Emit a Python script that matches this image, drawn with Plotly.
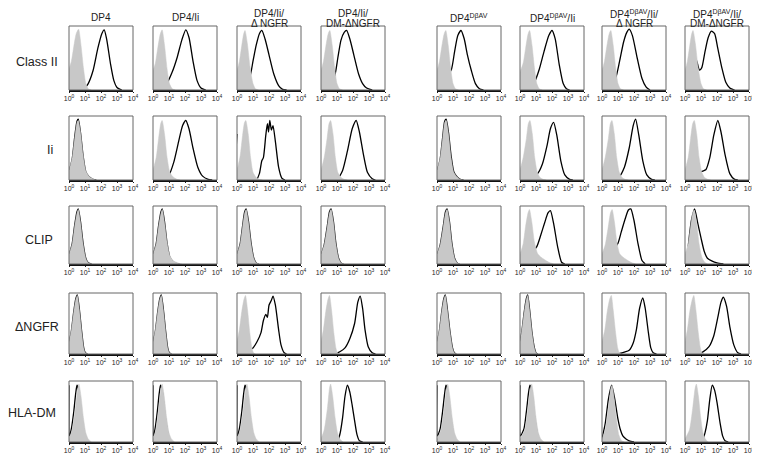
import plotly.graph_objects as go

COLUMN_TITLES = [
    "DP4", "DP4/Ii", "DP4/Ii/<br>Δ NGFR", "DP4/Ii/<br>DM-ΔNGFR",
    "DP4<sup>DβAV</sup>", "DP4<sup>DβAV</sup>/Ii",
    "DP4<sup>DβAV</sup>/Ii/<br>Δ NGFR", "DP4<sup>DβAV</sup>/Ii/<br>DM-ΔNGFR",
]
ROW_LABELS = ["Class II", "Ii", "CLIP", "ΔNGFR", "HLA-DM"]
TICK_VALUES = [0, 1, 2, 3, 4]
TICK_LABELS = ["10<sup>0</sup>", "10<sup>1</sup>", "10<sup>2</sup>", "10<sup>3</sup>", "10<sup>4</sup>"]

# Each histogram: list of (log10 fluorescence, relative count)
CLASS_II_GRAY = [
    [(0, 0.33), (0.15, 0.45), (0.3, 0.68), (0.45, 0.88), (0.6, 0.95), (0.75, 0.7), (0.9, 0.35), (1.05, 0.1), (1.2, 0.02), (1.4, 0)],
    [(0, 0.3), (0.15, 0.42), (0.3, 0.66), (0.45, 0.87), (0.57, 0.94), (0.72, 0.7), (0.88, 0.33), (1.03, 0.1), (1.2, 0.02), (1.4, 0)],
    [(0, 0.3), (0.15, 0.45), (0.3, 0.7), (0.42, 0.88), (0.5, 0.93), (0.65, 0.72), (0.82, 0.35), (1.0, 0.1), (1.15, 0.02), (1.35, 0)],
    [(0, 0.3), (0.15, 0.44), (0.3, 0.68), (0.45, 0.88), (0.55, 0.93), (0.7, 0.7), (0.85, 0.35), (1.0, 0.1), (1.15, 0.02), (1.35, 0)],
    [(0, 0.3), (0.15, 0.44), (0.3, 0.68), (0.45, 0.88), (0.55, 0.93), (0.7, 0.7), (0.85, 0.35), (1.0, 0.1), (1.15, 0.02), (1.35, 0)],
    [(0, 0.28), (0.2, 0.42), (0.35, 0.65), (0.5, 0.87), (0.6, 0.93), (0.75, 0.7), (0.9, 0.35), (1.05, 0.1), (1.2, 0.02), (1.4, 0)],
    [(0, 0.3), (0.15, 0.44), (0.3, 0.68), (0.45, 0.88), (0.55, 0.93), (0.7, 0.7), (0.85, 0.35), (1.0, 0.1), (1.15, 0.02), (1.35, 0)],
    [(0, 0.3), (0.15, 0.45), (0.3, 0.7), (0.42, 0.88), (0.5, 0.93), (0.65, 0.72), (0.82, 0.35), (1.0, 0.1), (1.15, 0.02), (1.35, 0)],
]
CLASS_II_BLACK = [
    [(0.9, 0), (1.2, 0.1), (1.5, 0.3), (1.8, 0.65), (2.05, 0.88), (2.2, 0.94), (2.35, 0.8), (2.6, 0.4), (2.8, 0.15), (3.0, 0.04), (3.3, 0)],
    [(0.5, 0.03), (0.9, 0.12), (1.2, 0.28), (1.5, 0.5), (1.8, 0.78), (2.05, 0.94), (2.25, 0.82), (2.5, 0.45), (2.75, 0.15), (3.0, 0.03), (3.3, 0)],
    [(0.5, 0.1), (0.8, 0.2), (1.0, 0.45), (1.2, 0.7), (1.4, 0.88), (1.55, 0.93), (1.75, 0.8), (2.0, 0.55), (2.3, 0.25), (2.6, 0.07), (2.85, 0.01), (3.1, 0)],
    [(0.5, 0.1), (0.85, 0.22), (1.05, 0.5), (1.25, 0.78), (1.45, 0.9), (1.6, 0.93), (1.8, 0.8), (2.05, 0.55), (2.35, 0.25), (2.6, 0.1), (2.85, 0.03), (3.2, 0)],
    [(0.6, 0.2), (0.9, 0.32), (1.1, 0.6), (1.3, 0.85), (1.5, 0.93), (1.7, 0.8), (1.9, 0.55), (2.15, 0.3), (2.4, 0.1), (2.65, 0.02), (2.9, 0)],
    [(0.6, 0.05), (0.9, 0.12), (1.2, 0.32), (1.5, 0.6), (1.8, 0.85), (2.0, 0.93), (2.2, 0.8), (2.45, 0.4), (2.7, 0.1), (2.9, 0.02), (3.1, 0)],
    [(0.6, 0.08), (0.85, 0.18), (1.1, 0.45), (1.35, 0.75), (1.55, 0.9), (1.7, 0.95), (1.9, 0.85), (2.2, 0.5), (2.5, 0.18), (2.75, 0.05), (3.0, 0)],
    [(0.5, 0.45), (0.7, 0.47), (0.9, 0.31), (1.05, 0.35), (1.25, 0.6), (1.45, 0.82), (1.65, 0.92), (1.85, 0.88), (2.05, 0.65), (2.3, 0.35), (2.55, 0.12), (2.8, 0.03), (3.1, 0)],
]

II_GRAY = [
    [(0, 0.15), (0.2, 0.35), (0.35, 0.65), (0.5, 0.9), (0.58, 0.93), (0.72, 0.75), (0.88, 0.4), (1.05, 0.15), (1.25, 0.06), (1.5, 0.02), (1.7, 0)],
    [(0, 0.15), (0.2, 0.35), (0.35, 0.65), (0.48, 0.88), (0.57, 0.93), (0.72, 0.72), (0.88, 0.35), (1.05, 0.12), (1.25, 0.05), (1.5, 0.01), (1.7, 0)],
    [(0, 0.15), (0.2, 0.38), (0.35, 0.7), (0.47, 0.9), (0.55, 0.93), (0.7, 0.72), (0.85, 0.35), (1.0, 0.12), (1.2, 0.04), (1.4, 0.01), (1.6, 0)],
    [(0, 0.15), (0.2, 0.35), (0.38, 0.65), (0.5, 0.88), (0.6, 0.93), (0.75, 0.72), (0.9, 0.35), (1.05, 0.12), (1.25, 0.04), (1.45, 0.01), (1.65, 0)],
    [(0, 0.15), (0.2, 0.35), (0.35, 0.65), (0.48, 0.9), (0.57, 0.93), (0.72, 0.72), (0.88, 0.35), (1.05, 0.12), (1.25, 0.05), (1.45, 0.01), (1.65, 0)],
    [(0, 0.15), (0.2, 0.35), (0.4, 0.65), (0.52, 0.88), (0.62, 0.93), (0.77, 0.72), (0.92, 0.35), (1.08, 0.12), (1.25, 0.04), (1.45, 0.01), (1.65, 0)],
    [(0, 0.15), (0.2, 0.35), (0.4, 0.65), (0.52, 0.88), (0.62, 0.93), (0.77, 0.72), (0.92, 0.35), (1.08, 0.12), (1.25, 0.04), (1.45, 0.01), (1.65, 0)],
    [(0, 0.15), (0.2, 0.35), (0.35, 0.65), (0.48, 0.88), (0.58, 0.93), (0.73, 0.72), (0.88, 0.35), (1.05, 0.12), (1.22, 0.04), (1.42, 0.01), (1.6, 0)],
]
II_BLACK = [
    [(0, 0.13), (0.2, 0.33), (0.35, 0.66), (0.5, 0.92), (0.58, 0.95), (0.72, 0.74), (0.88, 0.38), (1.05, 0.13), (1.25, 0.05), (1.5, 0.01), (1.7, 0)],
    [(0.7, 0.03), (1.0, 0.08), (1.3, 0.28), (1.6, 0.6), (1.85, 0.85), (2.05, 0.93), (2.25, 0.8), (2.5, 0.5), (2.8, 0.2), (3.1, 0.06), (3.45, 0.01), (3.7, 0)],
    [(0, 0.72), (0.05, 0.04), (1.2, 0.0), (1.4, 0.1), (1.55, 0.3), (1.65, 0.35), (1.8, 0.7), (1.9, 0.88), (1.97, 0.75), (2.05, 0.93), (2.15, 0.78), (2.25, 0.85), (2.4, 0.6), (2.6, 0.2), (2.8, 0.03), (3.0, 0)],
    [(0.7, 0.0), (1.05, 0.03), (1.35, 0.15), (1.65, 0.45), (1.95, 0.8), (2.2, 0.93), (2.4, 0.75), (2.65, 0.4), (2.9, 0.12), (3.2, 0.02), (3.4, 0)],
    [(0, 0.13), (0.2, 0.33), (0.35, 0.66), (0.48, 0.92), (0.57, 0.95), (0.72, 0.74), (0.88, 0.38), (1.05, 0.13), (1.25, 0.05), (1.45, 0.01), (1.65, 0)],
    [(0.8, 0.05), (1.1, 0.1), (1.4, 0.25), (1.7, 0.55), (1.9, 0.8), (2.1, 0.9), (2.3, 0.7), (2.55, 0.3), (2.8, 0.08), (3.1, 0.01), (3.3, 0)],
    [(0.8, 0.02), (1.07, 0.05), (1.4, 0.2), (1.7, 0.5), (1.95, 0.85), (2.1, 0.95), (2.3, 0.7), (2.55, 0.3), (2.8, 0.08), (3.1, 0.01), (3.3, 0)],
    [(0.6, 0.1), (0.9, 0.12), (1.1, 0.14), (1.3, 0.16), (1.55, 0.35), (1.8, 0.7), (2.05, 0.93), (2.25, 0.75), (2.5, 0.4), (2.8, 0.1), (3.1, 0.01), (3.3, 0)],
]

CLIP_GRAY = [
    [(0, 0.17), (0.2, 0.35), (0.35, 0.65), (0.5, 0.88), (0.58, 0.94), (0.72, 0.72), (0.88, 0.35), (1.05, 0.1), (1.2, 0.02), (1.4, 0)],
    [(0, 0.17), (0.2, 0.35), (0.35, 0.65), (0.5, 0.88), (0.58, 0.94), (0.72, 0.72), (0.88, 0.38), (1.05, 0.15), (1.25, 0.06), (1.45, 0.03), (1.65, 0.01), (1.8, 0)],
    [(0, 0.17), (0.2, 0.35), (0.35, 0.65), (0.48, 0.88), (0.57, 0.94), (0.72, 0.72), (0.88, 0.35), (1.05, 0.1), (1.2, 0.02), (1.35, 0)],
    [(0, 0.17), (0.2, 0.33), (0.38, 0.62), (0.53, 0.88), (0.63, 0.94), (0.78, 0.72), (0.93, 0.35), (1.1, 0.1), (1.25, 0.02), (1.4, 0)],
    [(0, 0.17), (0.2, 0.33), (0.38, 0.62), (0.53, 0.88), (0.63, 0.94), (0.78, 0.72), (0.93, 0.35), (1.1, 0.1), (1.26, 0.02), (1.4, 0)],
    [(0, 0.17), (0.2, 0.35), (0.35, 0.65), (0.5, 0.88), (0.59, 0.94), (0.74, 0.72), (0.9, 0.38), (1.1, 0.18), (1.3, 0.12), (1.5, 0.08), (1.8, 0.03), (2.1, 0)],
    [(0, 0.17), (0.2, 0.33), (0.38, 0.62), (0.53, 0.88), (0.63, 0.94), (0.78, 0.72), (0.93, 0.38), (1.1, 0.18), (1.3, 0.12), (1.5, 0.08), (1.8, 0.03), (2.1, 0)],
    [(0, 0.17), (0.2, 0.35), (0.35, 0.65), (0.48, 0.88), (0.57, 0.93), (0.72, 0.72), (0.88, 0.35), (1.05, 0.12), (1.2, 0.04), (1.4, 0)],
]
CLIP_BLACK = [
    [(0, 0.15), (0.2, 0.35), (0.35, 0.66), (0.5, 0.9), (0.58, 0.95), (0.72, 0.73), (0.88, 0.36), (1.05, 0.1), (1.2, 0.02), (1.4, 0)],
    [(0, 0.15), (0.2, 0.35), (0.35, 0.66), (0.5, 0.9), (0.58, 0.95), (0.72, 0.73), (0.88, 0.36), (1.05, 0.12), (1.25, 0.04), (1.45, 0.01), (1.65, 0)],
    [(0, 0.15), (0.2, 0.35), (0.35, 0.66), (0.48, 0.9), (0.57, 0.95), (0.72, 0.73), (0.88, 0.36), (1.05, 0.1), (1.2, 0.02), (1.35, 0)],
    [(0, 0.15), (0.2, 0.33), (0.38, 0.63), (0.53, 0.9), (0.63, 0.95), (0.78, 0.73), (0.93, 0.36), (1.1, 0.1), (1.25, 0.02), (1.4, 0)],
    [(0, 0.15), (0.2, 0.33), (0.38, 0.63), (0.53, 0.9), (0.63, 0.95), (0.78, 0.73), (0.93, 0.36), (1.1, 0.1), (1.26, 0.02), (1.4, 0)],
    [(0.6, 0.15), (1.05, 0.3), (1.3, 0.5), (1.55, 0.72), (1.75, 0.88), (1.9, 0.92), (2.1, 0.7), (2.35, 0.3), (2.6, 0.03), (2.8, 0)],
    [(0.6, 0.2), (1.0, 0.36), (1.2, 0.55), (1.45, 0.78), (1.65, 0.93), (1.8, 0.95), (2.0, 0.75), (2.25, 0.35), (2.5, 0.06), (2.7, 0)],
    [(0.2, 0.3), (0.4, 0.75), (0.6, 0.95), (0.8, 0.7), (1.0, 0.45), (1.2, 0.22), (1.4, 0.1), (1.7, 0.05), (2.0, 0.02), (2.4, 0)],
]

NGFR_GRAY = [
    [(0, 0.2), (0.15, 0.4), (0.3, 0.7), (0.43, 0.9), (0.52, 0.96), (0.65, 0.72), (0.8, 0.35), (0.92, 0.1), (1.02, 0.02), (1.15, 0)],
    [(0, 0.2), (0.15, 0.4), (0.3, 0.7), (0.43, 0.9), (0.52, 0.96), (0.65, 0.72), (0.8, 0.35), (0.92, 0.1), (1.02, 0.02), (1.15, 0)],
    [(0, 0.2), (0.15, 0.4), (0.3, 0.7), (0.44, 0.9), (0.53, 0.96), (0.66, 0.72), (0.8, 0.35), (0.93, 0.1), (1.03, 0.02), (1.15, 0)],
    [(0, 0.2), (0.15, 0.4), (0.3, 0.7), (0.44, 0.9), (0.53, 0.96), (0.66, 0.72), (0.8, 0.35), (0.93, 0.1), (1.03, 0.02), (1.15, 0)],
    [(0, 0.2), (0.15, 0.4), (0.3, 0.7), (0.43, 0.9), (0.52, 0.96), (0.65, 0.72), (0.82, 0.35), (0.97, 0.1), (1.08, 0.02), (1.2, 0)],
    [(0, 0.2), (0.12, 0.4), (0.27, 0.7), (0.4, 0.9), (0.48, 0.96), (0.6, 0.72), (0.75, 0.35), (0.9, 0.1), (1.0, 0.02), (1.1, 0)],
    [(0, 0.2), (0.18, 0.4), (0.33, 0.7), (0.48, 0.9), (0.58, 0.96), (0.7, 0.72), (0.85, 0.35), (0.98, 0.1), (1.08, 0.02), (1.2, 0)],
    [(0, 0.2), (0.15, 0.4), (0.3, 0.7), (0.46, 0.9), (0.55, 0.96), (0.68, 0.72), (0.83, 0.35), (0.96, 0.1), (1.06, 0.02), (1.18, 0)],
]
NGFR_BLACK = [
    [(0, 0.18), (0.15, 0.38), (0.3, 0.7), (0.43, 0.91), (0.52, 0.97), (0.65, 0.73), (0.8, 0.35), (0.92, 0.1), (1.02, 0.02), (1.15, 0)],
    [(0, 0.18), (0.15, 0.38), (0.3, 0.7), (0.43, 0.91), (0.52, 0.97), (0.65, 0.73), (0.8, 0.35), (0.92, 0.1), (1.02, 0.02), (1.15, 0)],
    [(0.6, 0.05), (1.0, 0.1), (1.25, 0.2), (1.5, 0.35), (1.65, 0.55), (1.8, 0.65), (1.9, 0.6), (2.0, 0.8), (2.15, 0.88), (2.25, 0.95), (2.4, 0.8), (2.6, 0.4), (2.75, 0.15), (2.95, 0.02), (3.1, 0)],
    [(0.7, 0), (0.95, 0.01), (1.2, 0.04), (1.5, 0.1), (1.8, 0.25), (2.1, 0.5), (2.3, 0.85), (2.45, 0.95), (2.6, 0.75), (2.75, 0.4), (2.95, 0.12), (3.2, 0.02), (3.4, 0)],
    [(0, 0.18), (0.15, 0.38), (0.3, 0.7), (0.43, 0.91), (0.52, 0.97), (0.65, 0.73), (0.82, 0.35), (0.97, 0.1), (1.08, 0.02), (1.2, 0)],
    [(0, 0.18), (0.12, 0.38), (0.27, 0.7), (0.4, 0.91), (0.48, 0.97), (0.6, 0.73), (0.75, 0.35), (0.9, 0.1), (1.0, 0.02), (1.1, 0)],
    [(0.8, 0), (1.1, 0.01), (1.4, 0.03), (1.7, 0.06), (1.95, 0.18), (2.15, 0.4), (2.35, 0.75), (2.55, 0.92), (2.7, 0.75), (2.9, 0.35), (3.05, 0.1), (3.2, 0.02), (3.4, 0)],
    [(0.8, 0), (1.1, 0.03), (1.5, 0.12), (1.8, 0.3), (2.05, 0.6), (2.25, 0.85), (2.4, 0.93), (2.6, 0.78), (2.8, 0.45), (3.05, 0.15), (3.3, 0.02), (3.5, 0)],
]

HLA_DM_GRAY = [
    [(0, 0.05), (0.2, 0.2), (0.4, 0.55), (0.55, 0.88), (0.62, 0.95), (0.75, 0.75), (0.9, 0.4), (1.05, 0.15), (1.2, 0.05), (1.4, 0)],
    [(0, 0.05), (0.18, 0.2), (0.36, 0.55), (0.5, 0.88), (0.57, 0.95), (0.7, 0.75), (0.85, 0.4), (1.0, 0.15), (1.15, 0.05), (1.35, 0)],
    [(0, 0.05), (0.2, 0.2), (0.4, 0.55), (0.55, 0.88), (0.62, 0.95), (0.75, 0.75), (0.9, 0.4), (1.05, 0.15), (1.2, 0.05), (1.4, 0)],
    [(0, 0.05), (0.2, 0.2), (0.4, 0.55), (0.53, 0.88), (0.6, 0.95), (0.73, 0.75), (0.88, 0.4), (1.03, 0.15), (1.18, 0.05), (1.38, 0)],
    [(0, 0.05), (0.25, 0.2), (0.45, 0.55), (0.6, 0.88), (0.67, 0.95), (0.8, 0.75), (0.95, 0.4), (1.1, 0.15), (1.25, 0.05), (1.45, 0)],
    [(0, 0.05), (0.3, 0.2), (0.5, 0.55), (0.65, 0.88), (0.73, 0.95), (0.86, 0.75), (1.0, 0.4), (1.15, 0.15), (1.3, 0.05), (1.5, 0)],
    [(0, 0.05), (0.2, 0.2), (0.4, 0.55), (0.55, 0.88), (0.63, 0.93), (0.76, 0.72), (0.9, 0.38), (1.05, 0.12), (1.2, 0.03), (1.4, 0)],
    [(0, 0.05), (0.28, 0.2), (0.48, 0.55), (0.63, 0.88), (0.71, 0.95), (0.84, 0.75), (0.98, 0.4), (1.12, 0.15), (1.27, 0.05), (1.45, 0)],
]
HLA_DM_BLACK = [
    [(0, 0.93), (0.03, 0.1), (0.15, 0.22), (0.3, 0.5), (0.42, 0.8), (0.5, 0.93), (0.6, 0.85), (0.8, 0.4), (1.0, 0.1), (1.2, 0)],
    [(0, 0.93), (0.03, 0.1), (0.13, 0.22), (0.27, 0.5), (0.39, 0.8), (0.47, 0.93), (0.57, 0.85), (0.77, 0.4), (0.97, 0.1), (1.15, 0)],
    [(0, 0.93), (0.03, 0.1), (0.15, 0.22), (0.3, 0.5), (0.42, 0.8), (0.5, 0.93), (0.6, 0.85), (0.8, 0.4), (1.0, 0.1), (1.2, 0)],
    [(0.8, 0), (1.05, 0.02), (1.2, 0.15), (1.35, 0.4), (1.5, 0.75), (1.65, 0.93), (1.8, 0.82), (1.95, 0.6), (2.1, 0.35), (2.25, 0.12), (2.4, 0.02), (2.6, 0)],
    [(0, 0.93), (0.03, 0.1), (0.2, 0.22), (0.35, 0.5), (0.48, 0.8), (0.56, 0.93), (0.66, 0.85), (0.86, 0.4), (1.06, 0.1), (1.25, 0)],
    [(0, 0.93), (0.03, 0.1), (0.25, 0.22), (0.4, 0.5), (0.53, 0.8), (0.62, 0.93), (0.72, 0.85), (0.92, 0.4), (1.12, 0.1), (1.3, 0)],
    [(0, 0.05), (0.2, 0.3), (0.4, 0.7), (0.6, 0.93), (0.8, 0.7), (0.98, 0.4), (1.15, 0.2), (1.3, 0.1), (1.5, 0.05), (1.7, 0.02), (2.0, 0)],
    [(0.9, 0), (1.08, 0.02), (1.25, 0.15), (1.4, 0.35), (1.55, 0.7), (1.7, 0.93), (1.85, 0.85), (2.0, 0.65), (2.2, 0.3), (2.35, 0.1), (2.5, 0.02), (2.7, 0)],
]

GRAY_ROWS = [CLASS_II_GRAY, II_GRAY, CLIP_GRAY, NGFR_GRAY, HLA_DM_GRAY]
BLACK_ROWS = [CLASS_II_BLACK, II_BLACK, CLIP_BLACK, NGFR_BLACK, HLA_DM_BLACK]

# ---- layout (pixel positions in the 760x459 window) ----
OFFSET = 8  # the page body adds an 8px margin around the figure
FIG_W, FIG_H = 760 - OFFSET, 459 - OFFSET
COL_LEFT = [69, 153, 237, 321, 437, 520, 602, 685]
PANEL_W = 64
ROW_TOP = [26, 116, 206, 293, 381]
ROW_H = [64, 64, 58, 61, 61]
ROW_LABEL_X = [37, 50, 39, 37, 32]
ROW_LABEL_Y = [62, 150, 240, 327, 413]
TITLE_LINE_Y = [13.5, 23.5]
TITLE_SINGLE_Y = 17.5


def px_x(x):
    return (x - OFFSET) / FIG_W


def px_y(y):
    return 1 - (y - OFFSET) / FIG_H


FONT = "Liberation Sans, Arial, sans-serif"

fig = go.Figure()
layout = dict(
    width=FIG_W, height=FIG_H, autosize=False,
    margin=dict(l=0, r=0, t=0, b=0, pad=0),
    paper_bgcolor="white", plot_bgcolor="white",
    showlegend=False,
    font=dict(family=FONT, color="#222"),
)
shapes = []
annotations = []

for r in range(5):
    for c in range(8):
        k = r * 8 + c + 1
        xa = "x" if k == 1 else f"x{k}"
        ya = "y" if k == 1 else f"y{k}"
        xkey = "xaxis" if k == 1 else f"xaxis{k}"
        ykey = "yaxis" if k == 1 else f"yaxis{k}"
        layout[xkey] = dict(
            domain=[px_x(COL_LEFT[c]), px_x(COL_LEFT[c] + PANEL_W)], anchor=ya, range=[0, 4],
            tickvals=TICK_VALUES, ticktext=TICK_LABELS,
            tickfont=dict(size=7, color="#222", family=FONT),
            ticks="outside", ticklen=1, tickcolor="#222", tickwidth=1,
            showline=True, linecolor="#111", linewidth=1.5,
            showgrid=False, zeroline=False, fixedrange=True, automargin=False,
        )
        layout[ykey] = dict(
            domain=[px_y(ROW_TOP[r] + ROW_H[r]), px_y(ROW_TOP[r])], anchor=xa, range=[0, 1.0],
            visible=False, showgrid=False, zeroline=False, fixedrange=True,
        )
        black = BLACK_ROWS[r][c]
        gray = GRAY_ROWS[r][c]
        fig.add_trace(go.Scatter(
            x=[p[0] for p in black], y=[p[1] for p in black],
            mode="lines", line=dict(color="black", width=1.3, shape="spline", smoothing=0.6),
            xaxis=xa, yaxis=ya, hoverinfo="skip",
        ))
        fig.add_trace(go.Scatter(
            x=[p[0] for p in gray], y=[p[1] for p in gray],
            mode="lines", fill="tozeroy", fillcolor="#c8c8c8",
            line=dict(color="#c8c8c8", width=0.5, shape="spline", smoothing=0.6),
            xaxis=xa, yaxis=ya, hoverinfo="skip",
        ))
        shapes.append(dict(
            type="rect", xref=f"{xa} domain", yref=f"{ya} domain",
            x0=0, x1=1, y0=0, y1=1, line=dict(color="#666", width=1),
            layer="above",
        ))

for c, title in enumerate(COLUMN_TITLES):
    lines = title.split("<br>")
    ys = TITLE_LINE_Y if len(lines) == 2 else [TITLE_SINGLE_Y]
    for line, ty in zip(lines, ys):
        annotations.append(dict(
            text=line, xref="paper", yref="paper",
            x=px_x(COL_LEFT[c] + PANEL_W / 2), y=px_y(ty),
            xanchor="center", yanchor="middle", showarrow=False,
            font=dict(size=10, color="#222", family=FONT),
        ))

for r, lab in enumerate(ROW_LABELS):
    annotations.append(dict(
        text=lab, xref="paper", yref="paper",
        x=px_x(ROW_LABEL_X[r]), y=px_y(ROW_LABEL_Y[r]),
        xanchor="center", yanchor="middle", showarrow=False,
        font=dict(size=12.5, color="#222", family=FONT),
    ))

layout["shapes"] = shapes
layout["annotations"] = annotations
fig.update_layout(**layout)
fig.write_html("out.html")
